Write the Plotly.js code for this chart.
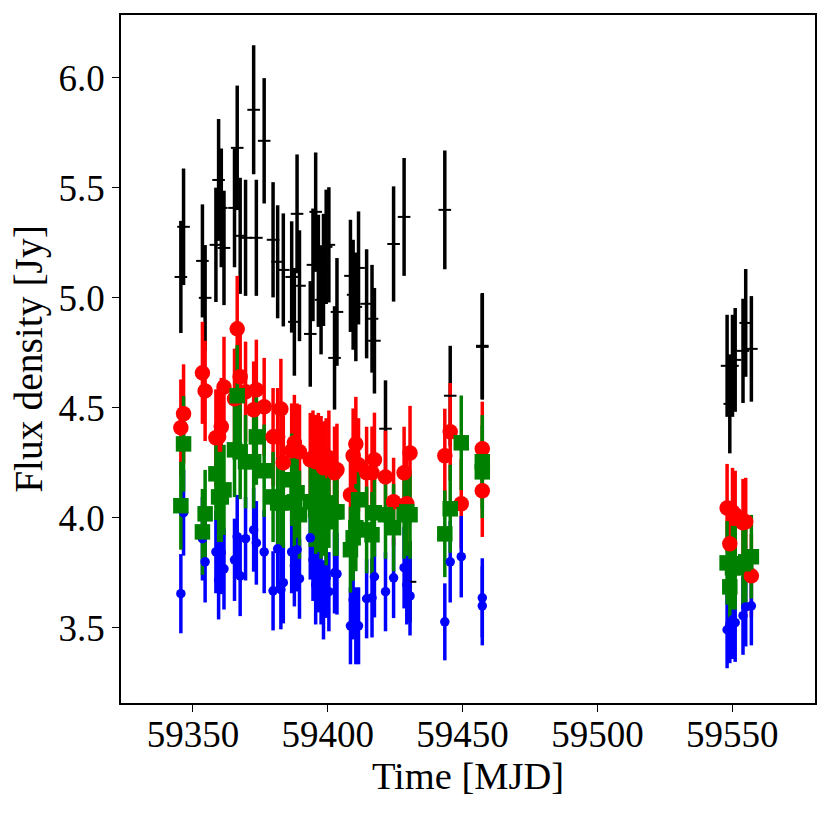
<!DOCTYPE html>
<html lang="en">
<head>
    <meta charset="UTF-8">
    <title>Flux density</title>
    <script src="https://cdn.plot.ly/plotly-3.0.1.min.js"></script>
    <style>
        html, body { margin: 0; padding: 0; background: white; }
    </style>
</head>

<body>
<div id="plot"></div>
</body>

<script>
    let time = [59345.5, 59346.5, 59353.5, 59354.5, 59358.5, 59359.5, 59360.5, 59361.5, 59365.4, 59366.4,
        59367.5, 59369.5, 59372.5, 59373.5, 59376.4, 59379.7, 59381.4, 59382.6, 59383.5, 59386.6,
        59387.6, 59388.6, 59389.5, 59393.5, 59394.5, 59395.5, 59396.5, 59397.5, 59398.4, 59399.4,
        59400.4, 59402.5, 59403.4, 59408.4, 59409.4, 59410.4, 59411.4, 59414.4, 59416.4, 59417.3,
        59421.4, 59424.4, 59428.3, 59429.3, 59430.5, 59443.4, 59445.4, 59449.5, 59457.3, 59457.3,
        59548.1, 59549.1, 59550.1, 59551.1, 59554.0, 59555.0, 59557.1]

    let fluxBlack = [5.095, 5.323, 5.168, 5.0, 5.241, 5.536, 5.409, 5.227, 5.409, 5.682,
        5.282, 5.273, 5.855, 5.273, 5.714, 5.264, 5.164, null, 5.127, 5.095,
        4.891, 5.382, 5.055, 4.836, 5.15, 5.391, 5.123, 4.991, 5.127, 5.232,
        5.241, 4.727, 4.936, 5.1, 5.014, 4.959, 5.136, 4.973, 4.905, 4.805,
        4.405, 5.245, 5.368, null, 3.709, 5.4, 4.555, null, 4.777, 4.782,
        4.691, 4.518, 4.691, 4.718, 4.759, 4.886, 4.768]
    let errBlack = [0.255, 0.265, 0.257, 0.24, 0.26, 0.277, 0.27, 0.26, 0.27, 0.283,
        0.264, 0.264, 0.293, 0.264, 0.285, 0.262, 0.257, null, 0.257, 0.253,
        0.245, 0.27, 0.252, 0.24, 0.256, 0.27, 0.255, 0.248, 0.255, 0.26,
        0.262, 0.235, 0.245, 0.255, 0.25, 0.247, 0.257, 0.248, 0.245, 0.24,
        0.22, 0.262, 0.268, null, 0.185, 0.27, 0.227, null, 0.24, 0.24,
        0.232, 0.225, 0.232, 0.236, 0.237, 0.245, 0.24]

    let fluxRed = [4.409, 4.473, 4.659, 4.577, 4.364, 4.368, 4.414, 4.595, 4.541, 4.859,
        4.641, 4.573, 4.491, 4.582, 4.505, 4.368, 4.368, 4.495, 4.25, 4.305,
        4.341, 4.305, 4.3, 4.264, 4.273, 4.255, 4.264, 4.25, 4.227, 4.241,
        4.273, 4.205, 4.218, 4.105, 4.282, 4.336, 4.241, 4.205, 4.205, 4.264,
        4.186, 4.073, 4.205, 4.064, 4.295, 4.282, 4.391, 4.064, 4.314, 4.123,
        4.045, 3.882, 4.027, 4.014, 3.977, 3.982, 3.736]
    let errRed = [0.22, 0.225, 0.232, 0.228, 0.22, 0.22, 0.222, 0.228, 0.228, 0.241,
        0.23, 0.228, 0.22, 0.228, 0.222, 0.222, 0.222, 0.228, 0.215, 0.215,
        0.218, 0.215, 0.215, 0.213, 0.215, 0.213, 0.213, 0.213, 0.212, 0.212,
        0.215, 0.21, 0.21, 0.205, 0.215, 0.214, 0.212, 0.209, 0.21, 0.214,
        0.21, 0.2, 0.209, 0.204, 0.214, 0.214, 0.222, 0.204, 0.214, 0.21,
        0.2, 0.195, 0.2, 0.2, 0.2, 0.2, 0.19]

    let fluxGreen = [4.055, 4.336, 3.936, 4.018, 4.2, 4.095, 4.095, 4.127, 4.309, 4.555,
        4.3, 4.255, 4.255, 4.368, 4.214, 4.095, 4.068, 4.068, 4.068, 4.173,
        4.073, 4.114, 4.014, 4.073, 4.073, 4.036, 4.045, 4.014, 4.027, 3.982,
        4.068, 4.027, 4.027, 3.855, 3.909, 3.955, 4.082, 3.945, 3.923, 4.023,
        4.014, 3.955, 4.014, 4.027, 4.014, 3.927, 4.041, 4.341, 4.255, 4.209,
        3.795, 3.686, 3.773, 3.773, 3.791, 3.8, 3.823]
    let errGreen = [0.2, 0.217, 0.195, 0.2, 0.21, 0.205, 0.205, 0.205, 0.215, 0.23,
        0.215, 0.212, 0.212, 0.218, 0.21, 0.205, 0.205, 0.205, 0.205, 0.21,
        0.205, 0.205, 0.2, 0.205, 0.205, 0.2, 0.2, 0.2, 0.2, 0.198,
        0.205, 0.2, 0.2, 0.195, 0.195, 0.198, 0.205, 0.197, 0.195, 0.2,
        0.2, 0.198, 0.2, 0.2, 0.2, 0.197, 0.2, 0.215, 0.212, 0.21,
        0.19, 0.185, 0.19, 0.19, 0.19, 0.19, 0.19]

    let fluxBlue = [3.655, 4.023, 3.905, 3.8, 3.845, 3.718, 3.841, 3.768, 3.809, 3.914,
        3.736, 3.905, 3.945, 3.886, 3.845, 3.668, 3.859, 3.673, 3.705, 3.845,
        3.782, 3.855, 3.723, 3.909, 3.809, 3.695, 3.755, 3.695, 3.627, 3.727,
        3.664, 3.75, 3.745, 3.509, 3.627, 3.509, 3.509, 3.632, 3.636, 3.732,
        3.664, 3.727, 3.773, 3.695, 3.645, 3.527, 3.8, 3.823, 3.636, 3.6,
        3.491, 3.514, 3.536, 3.523, 3.555, 3.595, 3.6]
    let errBlue = [0.18, 0.195, 0.19, 0.185, 0.188, 0.18, 0.188, 0.185, 0.187, 0.19,
        0.183, 0.19, 0.19, 0.19, 0.188, 0.18, 0.19, 0.18, 0.185, 0.188,
        0.185, 0.19, 0.182, 0.19, 0.187, 0.18, 0.185, 0.18, 0.18, 0.182,
        0.18, 0.185, 0.185, 0.175, 0.18, 0.175, 0.175, 0.18, 0.18, 0.185,
        0.18, 0.183, 0.185, 0.18, 0.18, 0.175, 0.185, 0.185, 0.18, 0.18,
        0.175, 0.175, 0.178, 0.178, 0.178, 0.18, 0.18]

    let xTicks = [59350, 59400, 59450, 59500, 59550]
    let yTicks = [3.5, 4.0, 4.5, 5.0, 5.5, 6.0]
    let fontName = "Liberation Serif"

    function barTrace(y, err, color) {
        return {
            x: time,
            y: y,
            type: "scatter",
            mode: "markers",
            marker: {size: 1, opacity: 0, color: color},
            error_y: {type: "data", array: err, visible: true, color: color, thickness: 3.5, width: 0},
            hoverinfo: "skip",
            showlegend: false
        }
    }

    function markTrace(y, symbol, size, color, lineWidth) {
        return {
            x: time,
            y: y,
            type: "scatter",
            mode: "markers",
            marker: {symbol: symbol, size: size, color: color, line: {color: color, width: lineWidth}},
            showlegend: false
        }
    }

    let data = [
        barTrace(fluxBlack, errBlack, "#000000"),
        barTrace(fluxRed, errRed, "#ff0000"),
        barTrace(fluxBlue, errBlue, "#0000ff"),
        barTrace(fluxGreen, errGreen, "#008000"),
        markTrace(fluxBlack, "line-ew", 9, "#000000", 2),
        markTrace(fluxBlue, "circle", 9.5, "#0000ff", 0),
        markTrace(fluxRed, "circle", 15.5, "#ff0000", 0),
        markTrace(fluxGreen, "square", 15.5, "#008000", 0)
    ]

    let layout = {
        width: 829,
        height: 816,
        margin: {l: 120.7, r: 14.3, t: 15, b: 112.7, pad: 0},
        paper_bgcolor: "white",
        plot_bgcolor: "white",
        font: {family: fontName, color: "#000000"},
        xaxis: {
            range: [59323.3, 59580.7],
            tickvals: xTicks,
            ticktext: xTicks.map(String),
            ticks: "outside",
            ticklen: 7,
            tickwidth: 1.2,
            tickcolor: "#000000",
            tickfont: {family: fontName, size: 37},
            ticklabelstandoff: -9,
            showgrid: false,
            zeroline: false,
            showline: true,
            linecolor: "#000000",
            linewidth: 1.6,
            mirror: true,
            title: {text: "Time [MJD]", font: {family: fontName, size: 38.5}, standoff: 0}
        },
        yaxis: {
            range: [3.158, 6.286],
            tickvals: yTicks,
            ticktext: yTicks.map(v => v.toFixed(1)),
            ticks: "outside",
            ticklen: 7,
            tickwidth: 1.2,
            tickcolor: "#000000",
            tickfont: {family: fontName, size: 37},
            showgrid: false,
            zeroline: false,
            showline: true,
            linecolor: "#000000",
            linewidth: 1.6,
            mirror: true,
            title: {text: "Flux density [Jy]", font: {family: fontName, size: 39.5}, standoff: 4}
        }
    }

    Plotly.newPlot("plot", data, layout, {displayModeBar: false})
</script>
</html>
